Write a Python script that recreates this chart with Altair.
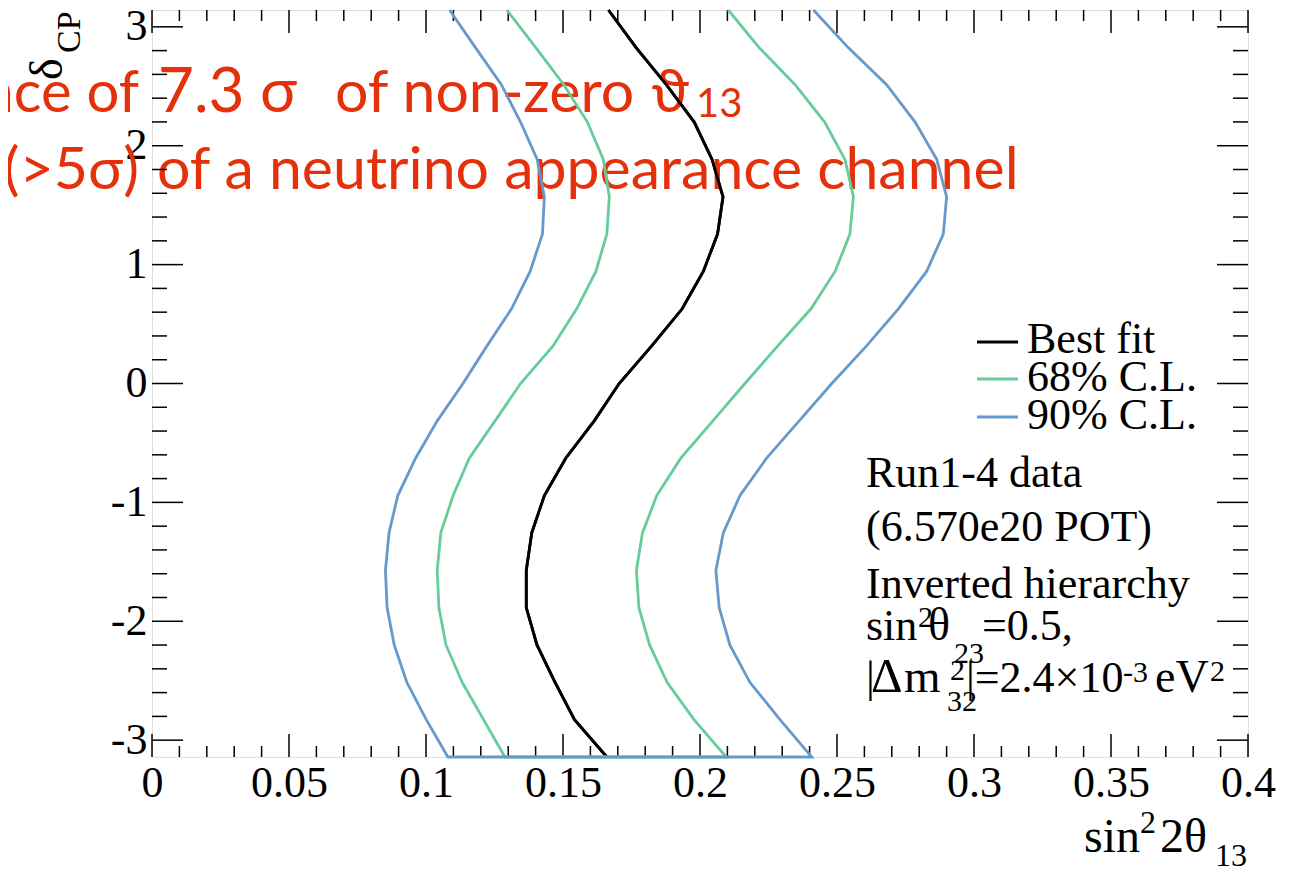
import altair as alt
import pandas as pd

# ---------------- data ----------------
delta = [-3.1416, -2.8274, -2.5133, -2.1991, -1.8850, -1.5708, -1.2566, -0.9425,
         -0.6283, -0.3142, 0.0, 0.3142, 0.6283, 0.9425, 1.2566, 1.5708, 1.8850,
         2.1991, 2.5133, 2.8274, 3.1416]

best_fit = [0.1660, 0.1542, 0.1471, 0.1405, 0.1366, 0.1366, 0.1386, 0.1432, 0.1510,
            0.1614, 0.1705, 0.1823, 0.1935, 0.2012, 0.2064, 0.2084, 0.2044, 0.1979,
            0.1877, 0.1766, 0.1666]

cl68_left = [0.1288, 0.1210, 0.1132, 0.1073, 0.1047, 0.1041, 0.1054, 0.1099, 0.1158,
             0.1252, 0.1345, 0.1463, 0.1550, 0.1620, 0.1660, 0.1669, 0.1647, 0.1589,
             0.1503, 0.1400, 0.1295]

cl68_right = [0.2096, 0.1978, 0.1880, 0.1816, 0.1777, 0.1768, 0.1790, 0.1842, 0.1930,
              0.2047, 0.2164, 0.2283, 0.2405, 0.2493, 0.2547, 0.2560, 0.2529, 0.2455,
              0.2347, 0.2215, 0.2103]

cl90_left = [0.1080, 0.1001, 0.0930, 0.0884, 0.0858, 0.0852, 0.0865, 0.0897, 0.0962,
             0.1041, 0.1135, 0.1222, 0.1312, 0.1380, 0.1425, 0.1432, 0.1406, 0.1345,
             0.1275, 0.1180, 0.1086]

cl90_right = [0.2408, 0.2292, 0.2182, 0.2109, 0.2070, 0.2058, 0.2085, 0.2146, 0.2243,
              0.2362, 0.2481, 0.2607, 0.2724, 0.2827, 0.2888, 0.2900, 0.2864, 0.2785,
              0.2681, 0.2540, 0.2414]

x_tick_labels = [0, 0.05, 0.1, 0.15, 0.2, 0.25, 0.3, 0.35, 0.4]
y_tick_labels = [-3, -2, -1, 0, 1, 2, 3]
x_minor_ticks = [round(i * 0.01, 2) for i in range(41) if i % 5 != 0]
y_minor_ticks = [round(-3 + i * 0.2, 1) for i in range(31) if i % 5 != 0]

legend_labels = ["Best fit", "68% C.L.", "90% C.L."]

# ---------------- layout ----------------
W, H = 1096, 747
X0, Y0 = 152, 10  # page position of the plot origin
GREEN = "#66cc99"
BLUE = "#6699cc"
RED = "#e5300c"
SERIF = "Liberation Serif"
SANS = "Lato"

xscale = alt.Scale(domain=[0, 0.4], nice=False, zero=False)
yscale = alt.Scale(domain=[-3.1416, 3.1416], nice=False, zero=False)

XAX = alt.Axis(values=x_tick_labels, format="~g", ticks=False, domain=False,
               grid=False, title=None, labelFont=SERIF, labelFontSize=44,
               labelColor="black", labelPadding=4, tickSize=0,
               labelOverlap=False, labelFlush=False)
YAX = alt.Axis(values=y_tick_labels, labelExpr="'' + datum.value", ticks=False,
               domain=False, grid=False, title=None, labelFont=SERIF,
               labelFontSize=44, labelColor="black", labelPadding=5,
               tickSize=0, labelOverlap=False, labelFlush=False)


def contour(left, right):
    rows = []
    k = 0
    for d, x in zip(reversed(delta), reversed(left)):
        rows.append({"x": x, "y": d, "o": k})
        k += 1
    for d, x in zip(delta, right):
        rows.append({"x": x, "y": d, "o": k})
        k += 1
    return pd.DataFrame(rows)


def line_layer(df, color):
    return alt.Chart(df).mark_line(color=color, strokeWidth=2.8).encode(
        x=alt.X("x:Q", scale=xscale, axis=XAX),
        y=alt.Y("y:Q", scale=yscale, axis=YAX),
        order=alt.Order("o:Q"),
    )


def txt(text, px, py, size, font=SERIF, color="black", align="left", angle=0):
    return alt.Chart(alt.Data(values=[{}])).mark_text(
        text=text, font=font, fontSize=size, color=color, align=align,
        baseline="alphabetic", angle=angle,
    ).encode(x=alt.value(px - X0), y=alt.value(py - Y0))


def hline(px1, px2, py, color):
    return alt.Chart(alt.Data(values=[{}])).mark_rule(color=color, strokeWidth=2.8).encode(
        x=alt.value(px1 - X0), x2=alt.value(px2 - X0), y=alt.value(py - Y0))


def ticks_x(values, length, top):
    df = pd.DataFrame({"x": values})
    y1, y2 = (0, length) if top else (H, H - length)
    return alt.Chart(df).mark_rule(color="black", strokeWidth=1.5).encode(
        x=alt.X("x:Q", scale=xscale, axis=XAX), y=alt.value(y1), y2=alt.value(y2))


def ticks_y(values, length, left):
    df = pd.DataFrame({"y": values})
    x1, x2 = (0, length) if left else (W, W - length)
    return alt.Chart(df).mark_rule(color="black", strokeWidth=1.5).encode(
        y=alt.Y("y:Q", scale=yscale, axis=YAX), x=alt.value(x1), x2=alt.value(x2))


best_df = pd.DataFrame({"x": best_fit, "y": delta, "o": list(range(len(delta)))})

layers = [
    # curves carry the axes
    line_layer(best_df, "black"),
    # red overlay text (underneath the plot lines)
    txt("Significance of", 139, 112, 58, SANS, RED, "right"),
    txt("7.3", 158, 112, 62, SANS, RED),
    txt("σ", 260, 112, 62, SANS, RED),
    txt("of non-zero", 335, 112, 59, SANS, RED),
    txt("ϑ", 651, 112, 60, SANS, RED),
    txt("13", 696, 117, 40, SANS, RED),
    txt("First observation (>5σ)", 139, 189, 59, SANS, RED, "right"),
    txt("of a neutrino appearance channel", 157, 189, 59, SANS, RED),
    # ticks
    ticks_x(x_tick_labels, 23, True), ticks_x(x_minor_ticks, 11, True),
    ticks_x(x_tick_labels, 23, False), ticks_x(x_minor_ticks, 11, False),
    ticks_y(y_tick_labels, 31, True), ticks_y(y_minor_ticks, 15, True),
    ticks_y(y_tick_labels, 31, False), ticks_y(y_minor_ticks, 15, False),
    # curves
    line_layer(best_df, "black"),
    line_layer(contour(cl68_left, cl68_right), GREEN),
    line_layer(contour(cl90_left, cl90_right), BLUE),
    # legend
    hline(977, 1018, 342, "black"), txt(legend_labels[0], 1027, 353, 44),
    hline(977, 1018, 379, GREEN), txt(legend_labels[1], 1027, 391, 44),
    hline(977, 1018, 417, BLUE), txt(legend_labels[2], 1027, 429, 44),
    # info text
    txt("Run1-4 data", 866, 487, 44),
    txt("(6.570e20 POT)", 866, 541, 44),
    txt("Inverted hierarchy", 866, 598, 44),
    txt("sin", 866, 640, 44), txt("2", 918, 627, 30), txt("θ", 928, 640, 46),
    txt("23", 954, 663, 30), txt("=0.5,", 982, 640, 44),
    txt("|", 866, 692, 44), txt("Δ", 871, 692, 49), txt("m", 904, 692, 47),
    txt("2", 950, 680, 30), txt("32", 947, 711, 30), txt("|=2.4×10", 966, 692, 44),
    txt("-3", 1123, 682, 30), txt("eV", 1155, 692, 46), txt("2", 1210, 681, 30),
    # axis titles
    txt("sin", 1084, 852, 48), txt("2", 1140, 833, 32), txt("2θ", 1160, 852, 48),
    txt("13", 1215, 866, 32),
    txt("δ", 62, 80, 46, angle=270), txt("CP", 80, 53, 34, angle=270),
]

chart = alt.layer(*layers).properties(
    width=W, height=H,
    autosize=alt.AutoSizeParams(type="none"),
    padding={"left": 144, "top": 2, "right": 42, "bottom": 112},
).configure_view(stroke="black", strokeWidth=2).configure(background="white")

chart.save("out.html", embed_options={"renderer": "svg", "actions": False})
